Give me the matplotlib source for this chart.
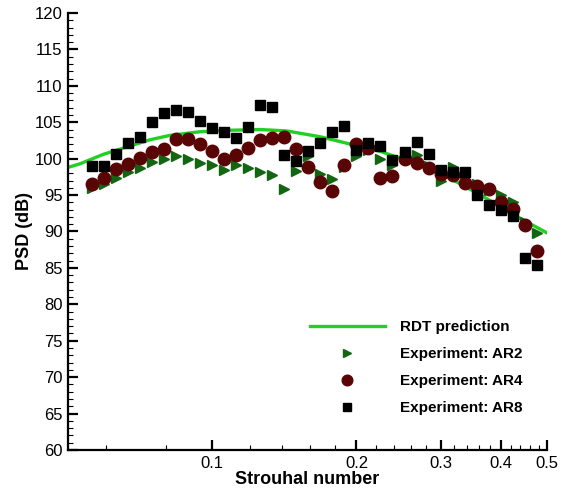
import numpy as np
import matplotlib
matplotlib.use('Agg')
import matplotlib.pyplot as plt
from matplotlib.ticker import FixedLocator, FixedFormatter, MultipleLocator

plt.rcParams['font.family'] = ['Liberation Sans', 'DejaVu Sans']

# Strouhal numbers of the measured bands (same for the three aspect ratios)
st = [0.0561, 0.0594, 0.0630, 0.0667, 0.0707, 0.0749, 0.0794, 0.0841, 0.0891, 0.0944,
      0.1000, 0.1059, 0.1122, 0.1189, 0.1260, 0.1335, 0.1414, 0.1498, 0.1587, 0.1682,
      0.1782, 0.1888, 0.2000, 0.2119, 0.2245, 0.2378, 0.2520, 0.2670, 0.2828, 0.2997,
      0.3175, 0.3364, 0.3564, 0.3776, 0.4000, 0.4238, 0.4490, 0.4757]

psd_ar2 = [96.0, 96.5, 97.3, 98.2, 98.7, 99.5, 100.0, 100.4, 100.0, 99.4,
           99.1, 98.4, 99.1, 98.7, 98.2, 97.8, 95.8, 98.3, 100.4, 97.9,
           97.2, 98.8, 100.3, 101.2, 100.0, 99.1, 100.3, 100.5, 99.0, 97.0,
           98.9, 98.0, 96.5, 95.7, 95.0, 94.1, 91.3, 89.8]

psd_ar4 = [96.5, 97.3, 98.6, 99.2, 100.1, 100.9, 101.3, 102.7, 102.7, 102.0,
           101.0, 99.9, 100.5, 101.4, 102.6, 102.8, 103.0, 101.3, 98.9, 96.8,
           95.5, 99.1, 102.0, 101.5, 97.4, 97.6, 100.0, 99.4, 98.7, 97.9,
           97.8, 96.7, 96.3, 95.9, 94.1, 93.1, 90.9, 87.3]

psd_ar8 = [99.0, 99.0, 100.6, 102.2, 103.0, 105.1, 106.3, 106.7, 106.4, 105.2,
           104.2, 103.6, 102.9, 104.4, 107.3, 107.1, 100.5, 99.7, 101.1, 102.1,
           103.7, 104.5, 101.2, 102.2, 101.8, 99.8, 100.9, 102.3, 100.6, 98.5,
           98.1, 98.1, 95.0, 93.6, 93.0, 92.1, 86.3, 85.4]

# RDT prediction curve
st_rdt = [0.050, 0.053, 0.0593, 0.0663, 0.0742, 0.0817, 0.0944, 0.109, 0.126,
          0.1432, 0.1682, 0.197, 0.2245, 0.263, 0.3095, 0.3634, 0.4258, 0.500]
psd_rdt = [98.8, 99.3, 100.6, 101.6, 102.6, 103.2, 103.7, 103.9, 104.0,
           103.8, 103.0, 101.9, 101.0, 99.4, 97.5, 95.0, 92.3, 89.8]

fig = plt.figure(figsize=(5.64, 4.92), dpi=100)
ax = fig.add_axes([0.1206, 0.0854, 0.8494, 0.8882])

ax.plot(st_rdt, psd_rdt, '-', color='#22d022', lw=2.4, label='RDT prediction', zorder=2)
ax.plot(st, psd_ar2, '>', color='#126612', ms=7, ls='none', label='Experiment: AR2', zorder=3)
ax.plot(st, psd_ar4, 'o', color='#5a0505', ms=9, ls='none', label='Experiment: AR4', zorder=4)
ax.plot(st, psd_ar8, 's', color='black', ms=6.5, ls='none', label='Experiment: AR8', zorder=5)

ax.set_xscale('log')
ax.set_xlim(0.05, 0.5)
ax.set_ylim(60, 120)

ax.xaxis.set_major_locator(FixedLocator([0.1, 0.2, 0.3, 0.4, 0.5]))
ax.xaxis.set_major_formatter(FixedFormatter(['0.1', '0.2', '0.3', '0.4', '0.5']))
ax.xaxis.set_minor_locator(FixedLocator(np.round(np.arange(0.06, 0.49, 0.02), 2)))
ax.xaxis.set_minor_formatter(FixedFormatter([]))
ax.yaxis.set_major_locator(MultipleLocator(5))
ax.yaxis.set_minor_locator(MultipleLocator(1))

for s in ['top', 'right']:
    ax.spines[s].set_visible(False)
for s in ['left', 'bottom']:
    ax.spines[s].set_linewidth(1.6)

ax.tick_params(which='major', direction='in', length=7, width=1.6, labelsize=12, pad=4)
ax.tick_params(which='minor', direction='in', length=3.5, width=0.8)

ax.set_xlabel('Strouhal number', fontsize=13, fontweight='bold', labelpad=0)
ax.set_ylabel('PSD (dB)', fontsize=13, fontweight='bold', labelpad=1)

leg = ax.legend(loc='upper left', bbox_to_anchor=(310 / 564, 1 - 320 / 492),
                bbox_transform=fig.transFigure, frameon=False, fontsize=11,
                handlelength=4.9, handletextpad=1.0, labelspacing=0.85,
                borderpad=0, borderaxespad=0, markerscale=0.85)
for t in leg.get_texts():
    t.set_fontweight('bold')

plt.savefig('out.png', dpi=100)
